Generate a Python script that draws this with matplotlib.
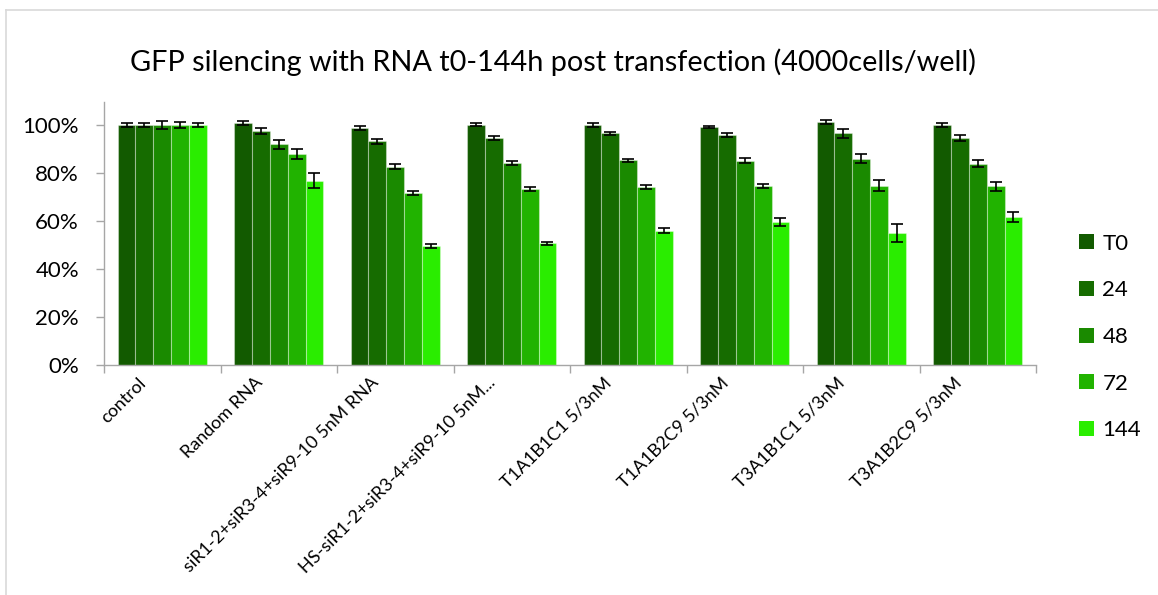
import matplotlib
matplotlib.use("Agg")
import matplotlib.pyplot as plt
import numpy as np
from matplotlib.patches import Patch
from matplotlib.lines import Line2D
from matplotlib.transforms import ScaledTranslation
from matplotlib.ticker import PercentFormatter

plt.rcParams['font.family'] = ['Lato', 'DejaVu Sans']

categories = [
    "control",
    "Random RNA",
    "siR1-2+siR3-4+siR9-10 5nM RNA",
    "HS-siR1-2+siR3-4+siR9-10 5nM...",
    "T1A1B1C1 5/3nM",
    "T1A1B2C9 5/3nM",
    "T3A1B1C1 5/3nM",
    "T3A1B2C9 5/3nM",
]
series_names = ["T0", "24", "48", "72", "144"]

# relative GFP signal (fraction of control) per time point
t0 = [1.000, 1.007, 0.989, 1.001, 1.000, 0.992, 1.011, 0.999]
h24 = [1.000, 0.975, 0.932, 0.946, 0.965, 0.960, 0.965, 0.946]
h48 = [1.000, 0.920, 0.826, 0.842, 0.854, 0.851, 0.860, 0.839]
h72 = [1.000, 0.879, 0.717, 0.735, 0.743, 0.746, 0.747, 0.744]
h144 = [1.000, 0.768, 0.497, 0.507, 0.560, 0.596, 0.550, 0.618]

# standard deviations
t0_err = [0.008, 0.008, 0.008, 0.006, 0.008, 0.005, 0.008, 0.008]
h24_err = [0.008, 0.014, 0.011, 0.010, 0.005, 0.008, 0.017, 0.011]
h48_err = [0.016, 0.019, 0.010, 0.010, 0.006, 0.010, 0.019, 0.015]
h72_err = [0.012, 0.021, 0.010, 0.008, 0.008, 0.010, 0.022, 0.018]
h144_err = [0.008, 0.031, 0.008, 0.005, 0.009, 0.017, 0.038, 0.020]

values = [t0, h24, h48, h72, h144]
errors = [t0_err, h24_err, h48_err, h72_err, h144_err]
colors = ["#125a00", "#166c00", "#1a8a00", "#21b300", "#2aed00"]

W, H = 1158, 595
fig = plt.figure(figsize=(W / 100, H / 100), dpi=100)
ax = fig.add_axes([104 / W, 1 - 365 / H, (1036 - 104) / W, (365 - 102) / H])

n = len(categories)
centers = np.arange(n) + 0.5
group = 0.766
bw = group / len(series_names)

for j, (vals, errs, col) in enumerate(zip(values, errors, colors)):
    x = centers + (j - (len(series_names) - 1) / 2) * bw
    ax.bar(x, vals, width=bw, color=col, edgecolor=(1, 1, 1, 0.35),
           linewidth=0.8, zorder=2)
    ax.errorbar(x, vals, yerr=errs, fmt='none', ecolor='black',
                elinewidth=1.2, capsize=4.3, capthick=1.2, zorder=3)

ax.set_xlim(0, n)
ax.set_ylim(0, 1.096)
ax.set_yticks(np.arange(0, 1.01, 0.2))
ax.yaxis.set_major_formatter(PercentFormatter(1.0, decimals=0))

for s in ['top', 'right']:
    ax.spines[s].set_visible(False)
for s in ['left', 'bottom']:
    ax.spines[s].set_color('#a6a6a6')
    ax.spines[s].set_linewidth(1.0)

ax.tick_params(axis='y', length=6, width=1, color='#a6a6a6', labelsize=16,
               pad=12, direction='out')

ax.set_xticks(centers)
ax.set_xticks(np.arange(n + 1), minor=True)
ax.tick_params(axis='x', which='major', length=0, pad=11)
ax.tick_params(axis='x', which='minor', length=6, width=1, color='#a6a6a6',
               direction='out')
ax.set_xticklabels(categories, rotation=45, ha='right', va='center',
                   rotation_mode='anchor', fontsize=13)
shift = ScaledTranslation(-19 / 100, 0, fig.dpi_scale_trans)
for lab in ax.get_xticklabels():
    lab.set_transform(lab.get_transform() + shift)

fig.text(553 / W, 1 - 62 / H,
         "GFP silencing with RNA t0-144h post transfection (4000cells/well)",
         ha='center', va='center', fontsize=20.8)

handles = [Patch(facecolor=c, edgecolor='none') for c in colors]
fig.legend(handles, series_names, loc='center left',
           bbox_to_anchor=(1068 / W, 1 - 337 / H), frameon=False,
           fontsize=16, handlelength=0.65, handleheight=0.65,
           handletextpad=0.4, labelspacing=1.2, borderpad=0)

# chart area outline
fig.add_artist(Line2D([6 / W, 6 / W], [0, 1 - 10 / H], transform=fig.transFigure,
                      color='#d9d9d9', linewidth=1.2))
fig.add_artist(Line2D([6 / W, 1], [1 - 10 / H, 1 - 10 / H], transform=fig.transFigure,
                      color='#d9d9d9', linewidth=1.2))

fig.savefig("out.png", dpi=100)
